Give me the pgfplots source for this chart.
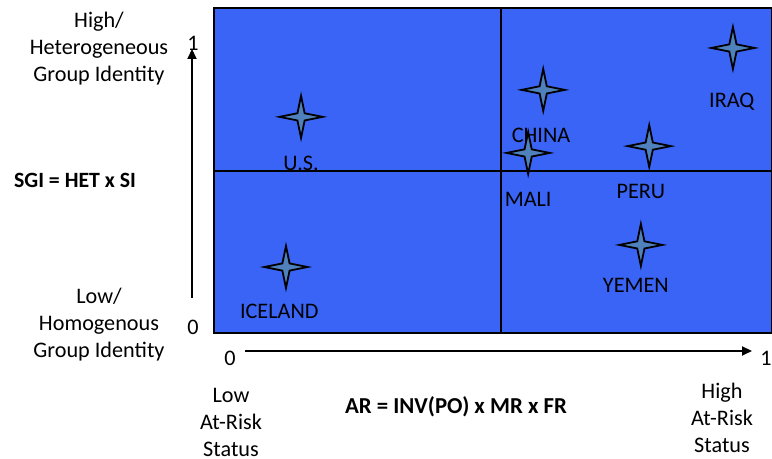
\documentclass[border=0pt]{standalone}
\usepackage{pgfplots}
\pgfplotsset{compat=1.18}
\usepackage{fontspec}
\setmainfont{Carlito}
\usetikzlibrary{arrows.meta}

\definecolor{boxblue}{RGB}{58,100,245}
\definecolor{starblue}{RGB}{79,129,189}

% four-pointed star, as in the slide
\pgfdeclareplotmark{star4}{%
  \pgfpathmoveto{\pgfpoint{0pt}{10.5pt}}%
  \pgfpathlineto{\pgfpoint{1.8pt}{1.8pt}}%
  \pgfpathlineto{\pgfpoint{10.8pt}{0pt}}%
  \pgfpathlineto{\pgfpoint{1.8pt}{-1.8pt}}%
  \pgfpathlineto{\pgfpoint{0pt}{-10.5pt}}%
  \pgfpathlineto{\pgfpoint{-1.8pt}{-1.8pt}}%
  \pgfpathlineto{\pgfpoint{-10.8pt}{0pt}}%
  \pgfpathlineto{\pgfpoint{-1.8pt}{1.8pt}}%
  \pgfpathclose
  \pgfusepathqfillstroke}

\begin{document}
\begin{tikzpicture}[x=1pt,y=1pt,font=\fontsize{11.1}{13.5}\selectfont]
\path[use as bounding box] (0,0) rectangle (386,229.5);

\begin{axis}[
    scale only axis,
    width=279pt, height=162.5pt,
    at={(107pt,63pt)}, anchor=south west,
    xmin=0, xmax=1, ymin=0, ymax=1,
    xtick=\empty, ytick=\empty,
    axis line style={line width=1pt},
    axis background/.style={fill=boxblue},
    clip=false
  ]
  \draw[line width=1pt] (axis cs:0.514,0) -- (axis cs:0.514,1);
  \draw[line width=1pt] (axis cs:0,0.498) -- (axis cs:1,0.498);

  \addplot[only marks, mark=star4, mark options={fill=starblue, draw=black, line width=0.9pt}]
    coordinates {
      (0.156,0.665) % U.S.
      (0.129,0.203) % ICELAND
      (0.590,0.748) % CHINA
      (0.563,0.554) % MALI
      (0.780,0.575) % PERU
      (0.765,0.271) % YEMEN
      (0.930,0.877) % IRAQ
    };

  \node at (axis cs:0.156,0.523) {U.S.};
  \node at (axis cs:0.117,0.068) {ICELAND};
  \node at (axis cs:0.586,0.609) {CHINA};
  \node at (axis cs:0.563,0.412) {MALI};
  \node at (axis cs:0.765,0.434) {PERU};
  \node at (axis cs:0.756,0.148) {YEMEN};
  \node at (axis cs:0.928,0.711) {IRAQ};
\end{axis}

% y side
\node[align=center] at (49.5,205) {High/\\Heterogeneous\\Group Identity};
\node[align=center] at (49.5,67) {Low/\\Homogenous\\Group Identity};
\node[font=\fontsize{10.9}{13.5}\selectfont\bfseries] at (37.5,139.5) {SGI = HET x SI};
\node at (96.5,208) {1};
\node at (96.5,66) {0};
\draw[line width=1pt, -{Triangle[length=5pt,width=4.5pt]}] (96,80.5) -- (96,205);

% x side
\draw[line width=1pt, -{Triangle[length=5pt,width=4.5pt]}] (122.5,54) -- (376,54);
\node at (115,50.5) {0};
\node at (383,50.5) {1};
\node[align=center] at (115.5,18.5) {Low\\At-Risk\\Status};
\node[align=center] at (361,20.5) {High\\At-Risk\\Status};
\node[font=\fontsize{11.4}{13.5}\selectfont\bfseries] at (228,26) {AR = INV(PO) x MR x FR};
\end{tikzpicture}
\end{document}
